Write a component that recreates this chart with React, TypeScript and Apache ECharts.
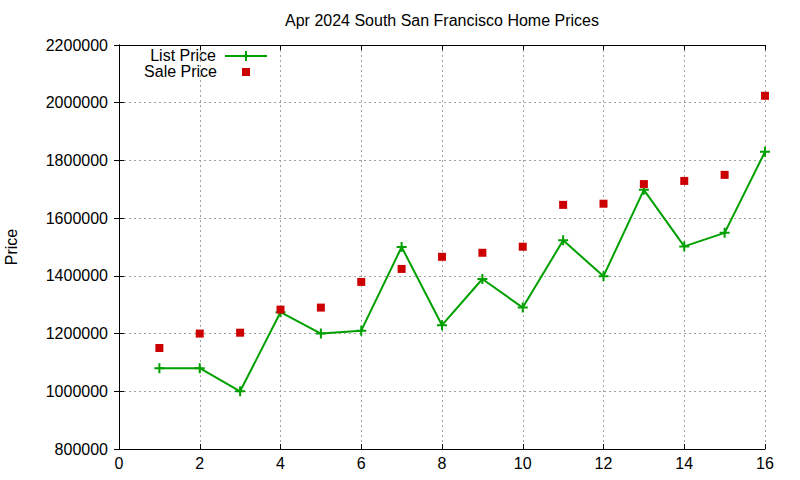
import React, { useEffect, useRef } from "react";
import * as echarts from "echarts";

// month positions on the x axis (1..16)
const positions = [1, 2, 3, 4, 5, 6, 7, 8, 9, 10, 11, 12, 13, 14, 15, 16];
const listPrices = [
  1080000, 1080000, 1000000, 1274000, 1200000, 1210000, 1500000, 1229000,
  1389000, 1290000, 1523000, 1399000, 1698000, 1502000, 1549000, 1830000,
];
const salePrices = [
  1150000, 1200000, 1203000, 1283000, 1290000, 1379000, 1424000, 1466000,
  1480000, 1501000, 1646000, 1650000, 1718000, 1729000, 1750000, 2024000,
];
const seriesNames = ["List Price", "Sale Price"];
const chartTitle = "Apr 2024 South San Francisco Home Prices";
const yAxisName = "Price";

const FONT = "'Liberation Sans', Arial, Helvetica, sans-serif";
const GREEN = "#00a000";
const RED = "#cc0000";
const PLUS = "path://M4,0h2v4h4v2h-4v4h-2v-4h-4v-2h4z";

export default function App() {
  const chartRef = useRef<HTMLDivElement>(null);

  useEffect(() => {
    if (!chartRef.current) return;
    document.body.style.margin = "0";
    const chart = echarts.init(chartRef.current, undefined, { renderer: "svg" });

    const tickLabel = { color: "#000", fontFamily: FONT, fontSize: 16 };
    const frameLine = { show: true, lineStyle: { color: "#000", width: 1 } };
    const tick = { show: true, inside: true, length: 5, lineStyle: { color: "#000" } };
    const grid = { show: true, lineStyle: { color: "#a0a0a0", type: [2, 3] as number[], width: 1 } };

    const option: echarts.EChartsOption = {
      animation: false,
      backgroundColor: "#fff",
      textStyle: { fontFamily: FONT },
      title: {
        text: chartTitle,
        left: 442,
        top: 12,
        padding: 0,
        textAlign: "center",
        textStyle: { color: "#000", fontFamily: FONT, fontSize: 16, fontWeight: "normal" },
      },
      legend: { show: false },
      grid: { left: 119, right: 35, top: 45, bottom: 31, outerBoundsMode: "none" } as any,
      xAxis: [
        {
          type: "value",
          min: 0,
          max: 16,
          interval: 2,
          axisLine: frameLine,
          axisTick: tick,
          axisLabel: { ...tickLabel, margin: 6 },
          splitLine: grid,
        },
        {
          type: "value",
          position: "top",
          min: 0,
          max: 16,
          interval: 2,
          axisLine: frameLine,
          axisTick: tick,
          axisLabel: { show: false },
          splitLine: { show: false },
        },
      ],
      yAxis: [
        {
          type: "value",
          min: 800000,
          max: 2200000,
          interval: 200000,
          name: yAxisName,
          nameLocation: "middle",
          nameRotate: 90,
          nameGap: 100,
          nameTextStyle: { color: "#000", fontFamily: FONT, fontSize: 16 },
          axisLine: frameLine,
          axisTick: tick,
          axisLabel: { ...tickLabel, margin: 11, formatter: (v: number) => String(v) },
          splitLine: grid,
        },
        {
          type: "value",
          position: "right",
          min: 800000,
          max: 2200000,
          interval: 200000,
          axisLine: frameLine,
          axisTick: tick,
          axisLabel: { show: false },
          splitLine: { show: false },
        },
      ],
      series: [
        {
          name: seriesNames[0],
          type: "line",
          data: positions.map((x, i) => [x, listPrices[i]]),
          symbol: PLUS,
          symbolSize: 10,
          showSymbol: true,
          lineStyle: { color: GREEN, width: 2 },
          itemStyle: { color: GREEN, opacity: 1 },
          z: 3,
        },
        {
          name: seriesNames[1],
          type: "scatter",
          data: positions.map((x, i) => [x, salePrices[i]]),
          symbol: "rect",
          symbolSize: 8,
          itemStyle: { color: RED, opacity: 1 },
          z: 4,
        },
      ],
      graphic: [
        {
          type: "text",
          x: 216,
          y: 55,
          style: {
            text: seriesNames[0],
            align: "right",
            verticalAlign: "middle",
            fill: "#000",
            font: `16px ${FONT}`,
            lineHeight: 15,
          },
        },
        {
          type: "line",
          shape: { x1: 225, y1: 56, x2: 267, y2: 56 },
          style: { stroke: GREEN, lineWidth: 2 },
        },
        {
          type: "line",
          shape: { x1: 246, y1: 51, x2: 246, y2: 61 },
          style: { stroke: GREEN, lineWidth: 2 },
        },
        {
          type: "text",
          x: 217,
          y: 71,
          style: {
            text: seriesNames[1],
            align: "right",
            verticalAlign: "middle",
            fill: "#000",
            font: `16px ${FONT}`,
            lineHeight: 15,
          },
        },
        {
          type: "rect",
          shape: { x: 242, y: 68, width: 8, height: 8 },
          style: { fill: RED },
        },
      ],
    };

    chart.setOption(option);

    return () => {
      chart.dispose();
    };
  }, []);

  return (
    <div
      ref={chartRef}
      style={{ position: "fixed", left: 0, top: 0, width: 800, height: 480, background: "#fff" }}
    />
  );
}
